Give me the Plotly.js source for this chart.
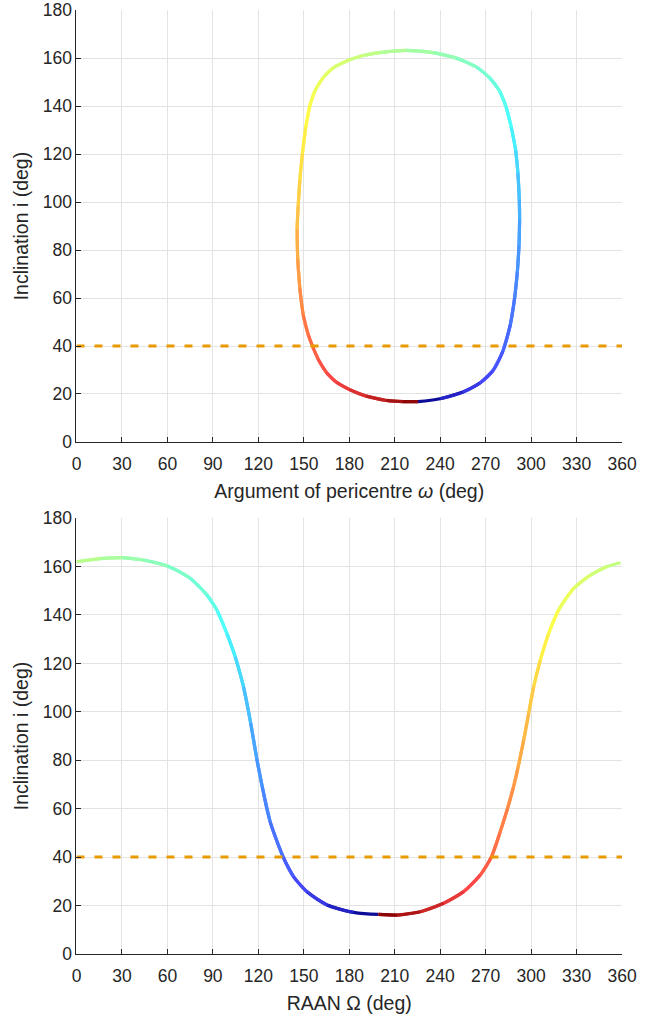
<!DOCTYPE html>
<html>
<head>
<meta charset="utf-8">
<script src="https://cdn.plot.ly/plotly-3.0.1.min.js"></script>
<style>
  html, body { margin: 0; padding: 0; background: #ffffff; }
  #chart { width: 651px; height: 1016px; }
</style>
</head>
<body>
<div id="chart"></div>
<script>
// ---------------- DATA ----------------
// Top panel: argument of pericentre ω (deg) vs inclination i (deg); colour = time fraction
const omegaDeg = [225.4, 239.9, 255.1, 266.1, 274.8, 281.4, 286.3, 289.1, 290.9, 292.0,
                  292.4, 292.2, 291.3, 289.8, 286.9, 283.6, 279.2, 272.6, 263.9, 250.7,
                  235.3, 217.7, 200.1, 189.1, 180.3, 169.3, 162.7, 157.3, 154.0, 151.3,
                  149.1, 147.4, 146.3, 145.6, 146.0, 147.4, 149.6, 152.9, 155.7, 159.5,
                  164.9, 171.5, 179.9, 191.3, 204.5, 215.5, 225.4];
const incTop   = [16.8, 18.0, 20.8, 24.5, 29.7, 37.9, 48.9, 59.9, 70.8, 81.8,
                  92.8, 101.0, 112.0, 121.6, 131.2, 139.4, 146.3, 151.8, 156.3, 160.0,
                  162.3, 163.2, 162.3, 161.1, 159.3, 155.9, 151.8, 146.3, 140.1, 131.2,
                  120.2, 109.2, 98.3, 88.7, 76.3, 64.0, 53.0, 44.8, 40.0, 34.5,
                  29.0, 24.9, 21.9, 19.1, 17.3, 16.8, 16.8];
const timeTop  = [0.00, 0.04, 0.08, 0.11, 0.13, 0.16, 0.18, 0.20, 0.22, 0.24,
                  0.26, 0.28, 0.31, 0.34, 0.37, 0.39, 0.41, 0.43, 0.45, 0.47,
                  0.49, 0.51, 0.53, 0.55, 0.56, 0.58, 0.59, 0.61, 0.62, 0.64,
                  0.66, 0.68, 0.70, 0.72, 0.75, 0.77, 0.80, 0.82, 0.83, 0.85,
                  0.87, 0.89, 0.91, 0.93, 0.96, 0.98, 1.00];

// Bottom panel: RAAN Ω (deg) vs inclination i (deg); colour = time fraction
const raanDeg = [199.3, 182.8, 165.3, 152.0, 143.2, 136.6, 127.8, 122.6, 119.0, 114.9,
                 110.2, 104.7, 99.2, 92.6, 86.0, 75.0, 60.0, 44.1, 29.9, 15.5, 0.0,
                 359.0, 350.2, 339.2, 328.1, 318.2, 311.6, 306.1, 301.7, 298.4, 295.1,
                 291.2, 288.2, 284.4, 279.4, 273.8, 266.5, 255.5, 242.3, 226.9, 211.5, 199.3];
const incBot  = [16.3, 17.1, 20.2, 25.7, 31.9, 39.7, 54.5, 69.0, 80.5, 95.5,
                 110.4, 122.8, 132.4, 142.1, 148.3, 155.2, 160.2, 162.7, 163.7, 163.3, 162.0,
                 161.6, 160.0, 156.5, 151.0, 142.1, 132.4, 121.4, 110.4, 99.4, 88.3,
                 76.5, 68.5, 60.0, 50.0, 40.0, 32.6, 25.7, 20.9, 17.4, 16.0, 16.3];
const timeBot = [0.00, 0.04, 0.08, 0.11, 0.14, 0.17, 0.20, 0.22, 0.24, 0.27,
                 0.31, 0.34, 0.37, 0.40, 0.42, 0.44, 0.46, 0.48, 0.50, 0.52, 0.54,
                 0.54, 0.55, 0.57, 0.59, 0.61, 0.63, 0.66, 0.69, 0.71, 0.73,
                 0.75, 0.77, 0.79, 0.81, 0.83, 0.86, 0.89, 0.92, 0.95, 0.98, 1.00];

// Threshold inclination (dashed line)
const thresholdInc = 40;
const angleSpan = [0, 360];

// Tick labels
const angleTicks = [0, 30, 60, 90, 120, 150, 180, 210, 240, 270, 300, 330, 360];
const incTicks = [0, 20, 40, 60, 80, 100, 120, 140, 160, 180];

// ---------------- STYLE helpers ----------------
function clamp(v) { return Math.max(0, Math.min(1, v)); }
function jetColor(t) {
  const r = clamp(Math.min(4 * t - 1.5, -4 * t + 4.5));
  const g = clamp(Math.min(4 * t - 0.5, -4 * t + 3.5));
  const b = clamp(Math.min(4 * t + 0.5, -4 * t + 2.5));
  // slow parts of the trajectory look denser/darker in the original
  const w = Math.max(0, 1 - Math.min(t, 1 - t) / 0.12);
  const a = 0.72 + 0.28 * w;
  const mix = c => Math.round(255 * (a * c + (1 - a)));
  return 'rgb(' + mix(r) + ',' + mix(g) + ',' + mix(b) + ')';
}

function gradientTraces(xs, ys, ts, xa, ya) {
  const out = [];
  for (let k = 0; k < xs.length - 1; k++) {
    if (Math.abs(xs[k + 1] - xs[k]) > 180) continue; // wrap-around break
    const px = [xs[k], xs[k + 1]];
    const py = [ys[k], ys[k + 1]];
    if (k + 2 < xs.length && Math.abs(xs[k + 2] - xs[k + 1]) <= 180) {
      px.push(xs[k + 2]); py.push(ys[k + 2]);
    }
    out.push({
      type: 'scatter', mode: 'lines', x: px, y: py,
      xaxis: xa, yaxis: ya, hoverinfo: 'skip', showlegend: false,
      line: { color: jetColor((ts[k] + ts[k + 1]) / 2), width: 3.2, shape: 'spline', smoothing: 1 }
    });
  }
  return out;
}

const dashStyle = { color: '#E89A00', width: 2.8, dash: '8px,10px' };

const traces = []
  .concat(gradientTraces(omegaDeg, incTop, timeTop, 'x', 'y'))
  .concat(gradientTraces(raanDeg, incBot, timeBot, 'x2', 'y2'))
  .concat([
    { type: 'scatter', mode: 'lines', x: angleSpan, y: [thresholdInc, thresholdInc],
      xaxis: 'x', yaxis: 'y', line: dashStyle, hoverinfo: 'skip', showlegend: false },
    { type: 'scatter', mode: 'lines', x: angleSpan, y: [thresholdInc, thresholdInc],
      xaxis: 'x2', yaxis: 'y2', line: dashStyle, hoverinfo: 'skip', showlegend: false }
  ]);

const FONT = 'Liberation Sans, Arial, Helvetica, sans-serif';
const TXT = '#262626';
const GRID = '#e3e3e3';

function xAxis(titleText, anchor, domain) {
  return {
    domain: domain, anchor: anchor, range: [0, 360], tickvals: angleTicks,
    ticktext: angleTicks.map(String), ticks: 'inside', ticklen: 5, tickwidth: 1,
    tickcolor: TXT, showline: true, linecolor: TXT, linewidth: 1, mirror: false,
    showgrid: true, gridcolor: GRID, gridwidth: 1, zeroline: false,
    tickfont: { family: FONT, size: 17.5, color: TXT },
    ticklabelstandoff: 6, ticklabeloverflow: 'allow',
    title: { text: titleText, font: { family: FONT, size: 19.5, color: TXT }, standoff: 11 },
    automargin: false, fixedrange: true
  };
}
function yAxis(anchor, domain) {
  return {
    domain: domain, anchor: anchor, range: [0, 180], tickvals: incTicks,
    ticktext: incTicks.map(String), ticks: 'inside', ticklen: 5, tickwidth: 1,
    tickcolor: TXT, showline: true, linecolor: TXT, linewidth: 1, mirror: false,
    showgrid: true, gridcolor: GRID, gridwidth: 1, zeroline: false,
    tickfont: { family: FONT, size: 17.5, color: TXT },
    ticklabeloverflow: 'allow',
    title: { text: 'Inclination i (deg)', font: { family: FONT, size: 19.5, color: TXT }, standoff: 8 },
    automargin: false, fixedrange: true
  };
}

const layout = {
  width: 651, height: 1016,
  margin: { l: 0, r: 0, t: 0, b: 0 },
  paper_bgcolor: '#ffffff', plot_bgcolor: '#ffffff',
  showlegend: false,
  xaxis: xAxis('Argument of pericentre <i>ω</i> (deg)', 'y', [0.1175, 0.9555]),
  yaxis: yAxis('x', [0.5650, 0.9900]),
  xaxis2: xAxis('RAAN Ω (deg)', 'y2', [0.1175, 0.9555]),
  yaxis2: yAxis('x2', [0.0612, 0.4900])
};

Plotly.newPlot('chart', traces, layout, { displayModeBar: false, staticPlot: true });
</script>
</body>
</html>
